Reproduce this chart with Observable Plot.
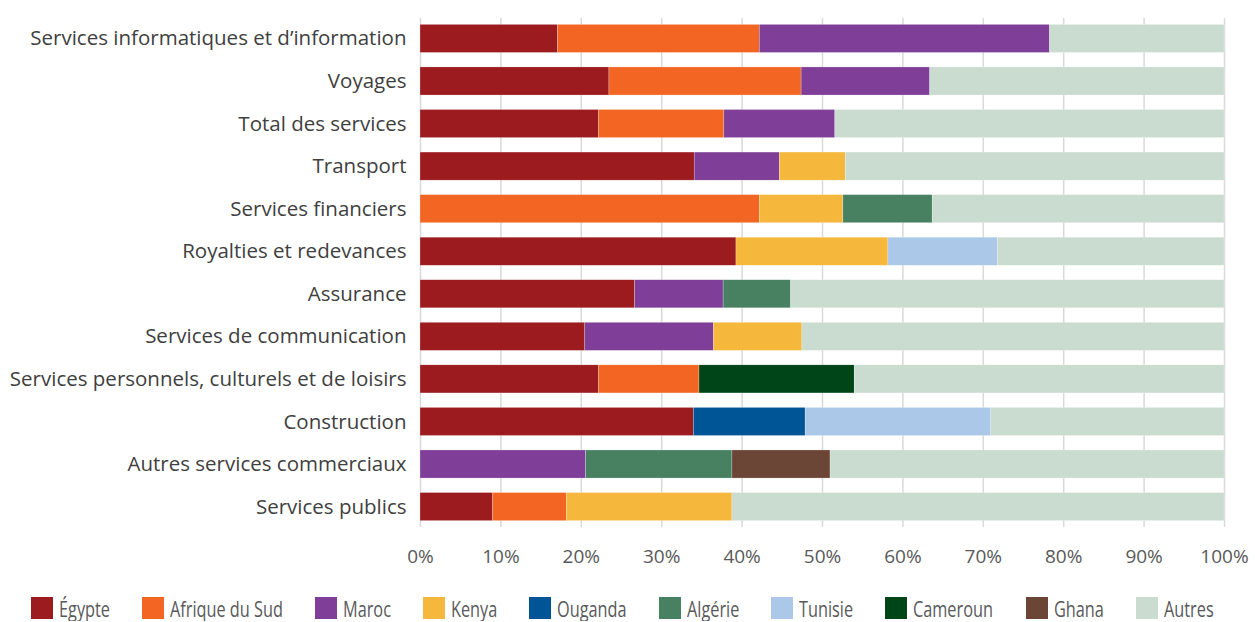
<!DOCTYPE html>
<html>
<head>
<meta charset="utf-8">
<script src="https://cdn.jsdelivr.net/npm/d3@7"></script>
<script src="https://cdn.jsdelivr.net/npm/@observablehq/plot@0.6"></script>
<style>
  html, body { margin: 0; padding: 0; background: #fff; }
  #chart { width: 1255px; }
  #legend {
    display: flex; justify-content: space-between; align-items: center;
    box-sizing: border-box; width: 1183px; margin-left: 31px; margin-top: 20px;
    font-family: "Open Sans", sans-serif;
    font-size: 22px; color: #58595b; height: 26px;
  }
  .item { display: flex; align-items: center; white-space: nowrap; }
  .sw { width: 22px; height: 22px; margin-right: 6px; display: inline-block; flex: none; }
  .lt { display: inline-block; transform: scaleX(0.74); transform-origin: left center; line-height: 26px; }
</style>
</head>
<body>
<div id="chart"></div>
<div id="legend"></div>
<script>
const categories = [
  "Services informatiques et d’information",
  "Voyages",
  "Total des services",
  "Transport",
  "Services financiers",
  "Royalties et redevances",
  "Assurance",
  "Services de communication",
  "Services personnels, culturels et de loisirs",
  "Construction",
  "Autres services commerciaux",
  "Services publics"
];
const countries = ["Égypte", "Afrique du Sud", "Maroc", "Kenya", "Ouganda", "Algérie", "Tunisie", "Cameroun", "Ghana", "Autres"];
const colors = ["#9b1b1f", "#f26522", "#7f3f98", "#f5b83d", "#005596", "#488162", "#abc8e8", "#004518", "#6b4536", "#cadbd0"];

const egypte      = [17.1, 23.5, 22.2, 34.1, 0,    39.3, 26.7, 20.5, 22.2, 34.0, 0,    9.0];
const afriqueSud  = [25.1, 23.9, 15.6, 0,    42.2, 0,    0,    0,    12.5, 0,    0,    9.2];
const maroc       = [36.1, 16.0, 13.8, 10.6, 0,    0,    11.0, 16.0, 0,    0,    20.6, 0];
const kenya       = [0,    0,    0,    8.2,  10.4, 18.9, 0,    11.0, 0,    0,    0,    20.6];
const ouganda     = [0,    0,    0,    0,    0,    0,    0,    0,    0,    13.9, 0,    0];
const algerie     = [0,    0,    0,    0,    11.1, 0,    8.4,  0,    0,    0,    18.2, 0];
const tunisie     = [0,    0,    0,    0,    0,    13.6, 0,    0,    0,    23.1, 0,    0];
const cameroun    = [0,    0,    0,    0,    0,    0,    0,    0,    19.3, 0,    0,    0];
const ghana       = [0,    0,    0,    0,    0,    0,    0,    0,    0,    0,    12.2, 0];
const autres      = [21.7, 36.6, 48.4, 47.1, 36.3, 28.2, 53.9, 52.5, 46.0, 29.0, 49.0, 61.2];
const xTicks = [0, 10, 20, 30, 40, 50, 60, 70, 80, 90, 100];

const series = [egypte, afriqueSud, maroc, kenya, ouganda, algerie, tunisie, cameroun, ghana, autres];
const data = [];
categories.forEach((cat, i) => {
  countries.forEach((c, j) => {
    const v = series[j][i];
    if (v > 0) data.push({category: cat, country: c, value: v});
  });
});

const chart = Plot.plot({
  width: 1255,
  height: 575,
  marginLeft: 420,
  marginRight: 31,
  marginTop: 18,
  marginBottom: 48,
  style: {fontFamily: "'Open Sans', sans-serif", fontSize: "20px", background: "#fff"},
  x: {domain: [0, 100], axis: null, label: null},
  y: {domain: categories, paddingInner: 0.34, paddingOuter: 0.15, round: false, axis: null, label: null},
  color: {domain: countries, range: colors},
  marks: [
    Plot.ruleX(xTicks, {stroke: "#d9d9d9", strokeWidth: 1.5}),
    Plot.barX(data, Plot.stackX({
      x: "value", y: "category", fill: "country", order: countries,
      stroke: "#ffffff", strokeWidth: 0.4, strokeOpacity: 0.6
    })),
    Plot.axisY({tickSize: 0, tickPadding: 14, fill: "#404040", fontSize: 20.5, label: null}),
    Plot.axisX({ticks: xTicks, tickFormat: d => d + "%", tickSize: 0, tickPadding: 22, fill: "#595959", fontSize: 19, label: null})
  ]
});
document.getElementById("chart").appendChild(chart);

const legend = document.getElementById("legend");
const texts = [];
countries.forEach((c, i) => {
  const item = document.createElement("div");
  item.className = "item";
  const sw = document.createElement("span");
  sw.className = "sw";
  sw.style.background = colors[i];
  const t = document.createElement("span");
  t.className = "lt";
  t.textContent = c;
  item.appendChild(sw);
  item.appendChild(t);
  legend.appendChild(item);
  texts.push(t);
});
// compensate the horizontal squeeze so the layout uses the condensed width
texts.forEach(t => {
  const w = t.getBoundingClientRect().width;
  const full = t.offsetWidth;
  t.style.marginRight = (w - full) + "px";
});
</script>
</body>
</html>
